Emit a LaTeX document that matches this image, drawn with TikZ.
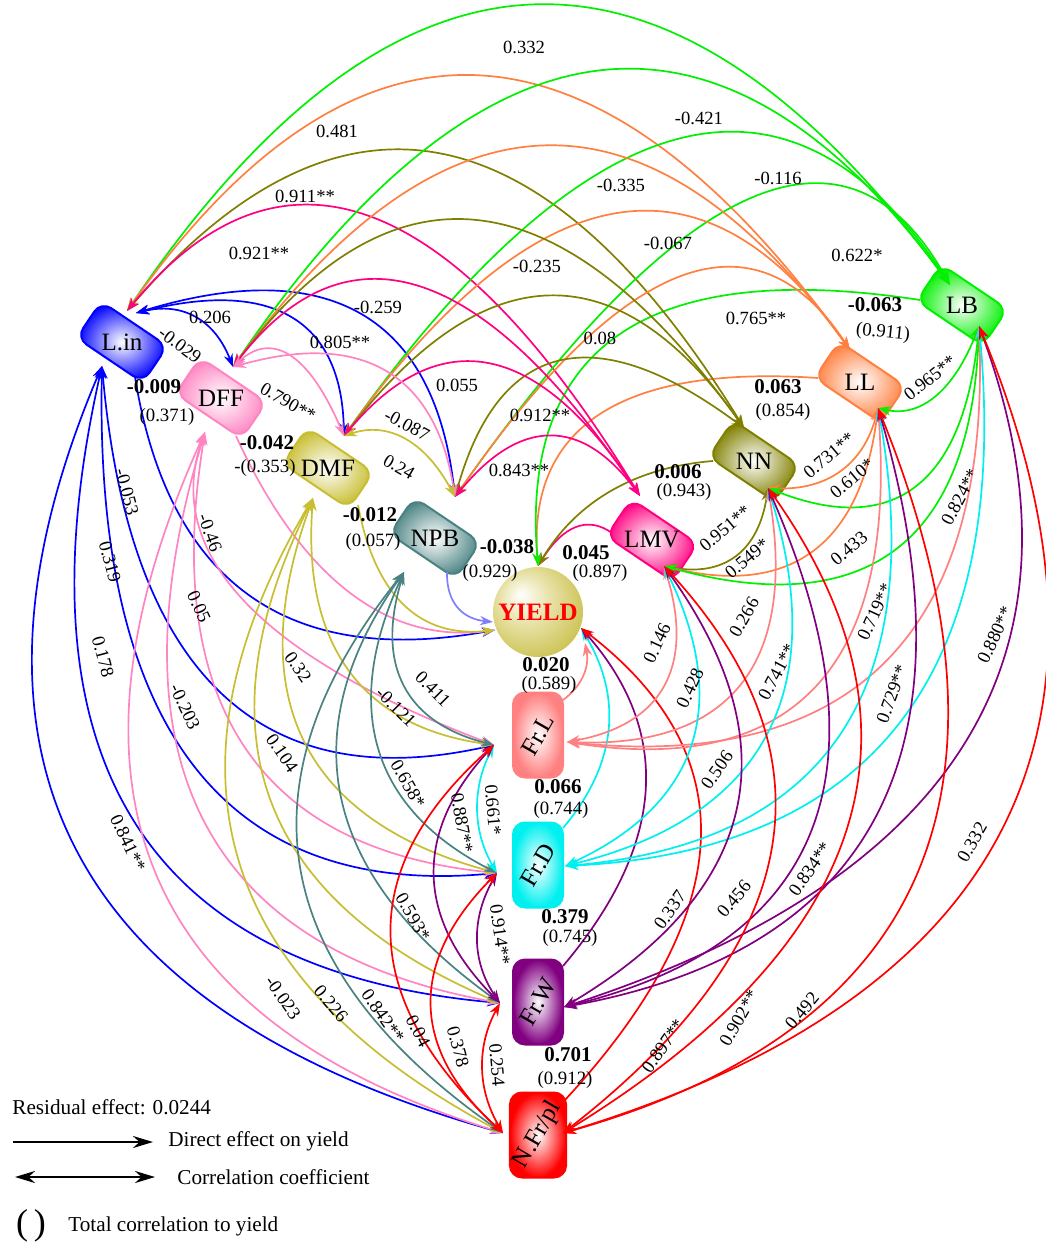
\documentclass[tikz,border=0pt]{standalone}
\usepackage{fontspec}
\setmainfont{Liberation Serif}
\usetikzlibrary{calc,arrows.meta}
\definecolor{cLin}{HTML}{0000FF}
\definecolor{cDFF}{HTML}{FF85C2}
\definecolor{cDMF}{HTML}{C8BE32}
\definecolor{cNPB}{HTML}{4A8282}
\definecolor{cLMV}{HTML}{FF0080}
\definecolor{cNN}{HTML}{808000}
\definecolor{cLL}{HTML}{FF8040}
\definecolor{cLB}{HTML}{00F000}
\definecolor{cFrL}{HTML}{FF8080}
\definecolor{cFrD}{HTML}{00F0F0}
\definecolor{cFrW}{HTML}{800080}
\definecolor{cNFr}{HTML}{FF0000}
\definecolor{cNPBY}{HTML}{8080FF}
\definecolor{cBallA}{HTML}{E8E2A8}
\definecolor{cBallB}{HTML}{C4BA3A}
\definecolor{cBallC}{HTML}{A89E22}
\pgfdeclareradialshading{yball}{\pgfpoint{-10bp}{10bp}}{color(0bp)=(white); color(14bp)=(cBallA); color(36bp)=(cBallB); color(52bp)=(cBallC)}
\newcounter{labn}
% quadratic-like curve from #2 to #3 passing through mid point #4
\newcommand{\qc}[4]{%
  \coordinate (qA) at (#2);%
  \coordinate (qB) at (#3);%
  \coordinate (qC) at ($(qA)!0.5!(qB)$);%
  \coordinate (qQ) at ($(#4)!-1!(qC)$);%
  \draw[#1] (qA) .. controls ($(qA)!0.6667!(qQ)$) and ($(qB)!0.6667!(qQ)$) .. (qB);%
}
\newcommand{\lbl}[3]{\stepcounter{labn}\node[lbltxt,rotate=#2] (lab\thelabn) at (#1) {#3};}
\newcommand{\blb}[2]{\stepcounter{labn}\node[blbl] (lab\thelabn) at (#1) {#2};}
\newcommand{\plb}[3]{\stepcounter{labn}\node[plbl,rotate=#2] (lab\thelabn) at (#1) {#3};}
\begin{document}
\begin{tikzpicture}[x=0.5pt,y=-0.5pt,>={Stealth[length=6.5pt,width=4.6pt]},
  corr/.style={draw=#1,line width=0.85pt,<->},
  deff/.style={draw=#1,line width=0.85pt,->},
  tbox/.style={draw=#1,line width=1pt,rounded corners=6pt,inner color=white,outer color=#1,minimum width=40pt,minimum height=22pt,inner sep=0pt,rotate=-34,font=\fontsize{12.5}{14}\selectfont},
  vbox/.style={draw=#1,line width=1pt,rounded corners=6pt,inner color=white,outer color=#1,minimum width=25pt,minimum height=42.5pt,inner sep=0pt,font=\fontsize{12.5}{14}\selectfont},
  lbltxt/.style={font=\fontsize{9.3}{11}\selectfont,inner sep=0pt},
  blbl/.style={font=\fontsize{10.5}{12}\selectfont\bfseries,inner sep=0pt},
  plbl/.style={font=\fontsize{9.4}{11}\selectfont,inner sep=0pt},
  legtxt/.style={font=\fontsize{10.6}{12}\selectfont,inner sep=0pt,anchor=west},
  legar/.style={line width=1.2pt,>={Stealth[length=10pt,width=6pt]}}]
\path[use as bounding box,fill=white] (0,0) rectangle (1045,1245);

% ---------- nodes ----------
\node[tbox=cLin] (lin) at (122,342) {\rotatebox{34}{L.in}};
\node[tbox=cDFF] (dff) at (221,398) {\rotatebox{34}{DFF}};
\node[tbox=cDMF] (dmf) at (328,468) {\rotatebox{34}{DMF}};
\node[tbox=cNPB] (npb) at (435,538) {\rotatebox{34}{NPB}};
\node[tbox=cLMV] (lmv) at (652,540) {\rotatebox{34}{LMV}};
\node[tbox=cNN]  (nn)  at (754,461) {\rotatebox{34}{NN}};
\node[tbox=cLL]  (ll)  at (860,382) {\rotatebox{34}{LL}};
\node[tbox=cLB]  (lb)  at (962,305) {\rotatebox{34}{LB}};
\node[vbox=cFrL] (frl) at (538,735) {\rotatebox{60}{Fr.L}};
\node[vbox=cFrD] (frd) at (538,865) {\rotatebox{60}{Fr.D}};
\node[vbox=cFrW] (frw) at (538,1002) {\rotatebox{60}{Fr.W}};
\node[vbox=cNFr] (nfr) at (538,1135) {\rotatebox{60}{N.Fr/pl}};
\node[circle,shading=yball,minimum size=45pt,inner sep=0pt,font=\fontsize{12.5}{14}\selectfont\bfseries,text=red] (yld) at (538,612) {YIELD};

% ---------- attachment points ----------
\coordinate (linT) at ($(lin)+(5,-31)$);
\coordinate (linTb) at ($(lin)+(14,-29)$);
\coordinate (linB) at ($(lin)+(-20,24)$);
\coordinate (linY) at ($(lin)+(13,35)$);
\coordinate (dffT) at ($(dff)+(12,-31)$);
\coordinate (dffB) at ($(dff)+(-16,34)$);
\coordinate (dffY) at ($(dff)+(15,38)$);
\coordinate (dmfT) at ($(dmf)+(16,-32)$);
\coordinate (dmfB) at ($(dmf)+(-15,30)$);
\coordinate (dmfY) at ($(dmf)+(30,37)$);
\coordinate (npbT) at ($(npb)+(20,-41)$);
\coordinate (npbB) at ($(npb)+(-31,34)$);
\coordinate (npbY) at ($(npb)+(12,34)$);
\coordinate (lmvT) at ($(lmv)+(-12,-44)$);
\coordinate (lmvB) at ($(lmv)+(12,26)$);
\coordinate (lmvL) at ($(lmv)+(-40,-7)$);
\coordinate (nnT) at ($(nn)+(-10,-33)$);
\coordinate (nnB) at ($(nn)+(14,27)$);
\coordinate (nnL) at ($(nn)+(-41,0)$);
\coordinate (llT) at ($(ll)+(-10,-32)$);
\coordinate (llB) at ($(ll)+(18,26)$);
\coordinate (llL) at ($(ll)+(-42,-4)$);
\coordinate (lbT) at ($(lb)+(-12,-20)$);
\coordinate (lbB) at ($(lb)+(17,21)$);
\coordinate (lbL) at ($(lb)+(-42,-5)$);
\coordinate (frlL) at ($(frl)+(-44,10)$);
\coordinate (frlR) at ($(frl)+(29,7)$);
\coordinate (frlY) at ($(frl)+(25,-35)$);
\coordinate (frdL) at ($(frd)+(-41,8)$);
\coordinate (frdR) at ($(frd)+(27,1)$);
\coordinate (frdY) at ($(frd)+(25,-37)$);
\coordinate (frwL) at ($(frw)+(-38,1)$);
\coordinate (frwR) at ($(frw)+(26,5)$);
\coordinate (frwY) at ($(frw)+(25,-36)$);
\coordinate (nfrL) at ($(nfr)+(-35,-2)$);
\coordinate (nfrR) at ($(nfr)+(25,-2)$);
\coordinate (nfrY) at ($(nfr)+(27,-35)$);
\coordinate (yL) at ($(yld)+(-43,18)$);
\coordinate (yLn) at ($(yld)+(-45,10)$);
\coordinate (yT) at ($(yld)+(0,-46)$);
\coordinate (yR) at ($(yld)+(43,16)$);
\coordinate (yBR) at ($(yld)+(47,31)$);

% ---------- direct effects ----------
\qc{deff=cLin}{linY}{yL}{250,595}
\qc{deff=cDFF}{dffY}{yL}{350,592}
\qc{deff=cDMF}{dmfY}{yL}{405,605}
\qc{deff=cNPBY}{npbY}{yLn}{458,607}
\qc{deff=cLMV}{lmvL}{yT}{575,528}
\qc{deff=cNN}{nnL}{yT}{610,492}
\qc{deff=cLL}{llL}{yT}{600,415}
\qc{deff=cLB}{lbL}{yT}{620,335}
\qc{deff=cFrL}{frlY}{yBR}{583,675}
\qc{deff=cFrD}{frdY}{yR}{608,730}
\qc{deff=cFrW}{frwY}{yR}{645,790}
\qc{deff=cNFr}{nfrY}{yR}{700,840}

% ---------- correlations: upper ----------
\qc{corr=cLB}{linT}{lbT}{535,6}
\qc{corr=cLL}{linT}{llT}{480,77}
\qc{corr=cNN}{linT}{nnT}{440,155}
\qc{corr=cLMV}{linT}{lmvT}{370,218}
\qc{corr=cLin}{linTb}{npbT}{360,315}
\qc{corr=cLin}{linTb}{dmfT}{290,318}
\qc{corr=cLin}{linTb}{dffT}{195,318}
\qc{corr=cLB}{dffT}{lbT}{600,72}
\qc{corr=cLB}{dmfT}{lbT}{680,140}
\qc{corr=cLB}{npbT}{lbT}{750,200}
\qc{corr=cLL}{dffT}{llT}{545,147}
\qc{corr=cLL}{dmfT}{llT}{615,215}
\qc{corr=cLL}{npbT}{llT}{680,278}
\qc{corr=cNN}{dffT}{nnT}{480,222}
\qc{corr=cNN}{dmfT}{nnT}{550,297}
\qc{corr=cNN}{npbT}{nnT}{560,362}
\qc{corr=cLMV}{dffT}{lmvT}{420,288}
\qc{corr=cLMV}{dmfT}{lmvT}{490,365}
\qc{corr=cLMV}{npbT}{lmvT}{550,437}
\qc{corr=cDFF}{dffT}{dmfT}{290,357}
\qc{corr=cDFF}{dffT}{npbT}{385,372}
\qc{corr=cDMF}{dmfT}{npbT}{405,440}

% ---------- correlations: right ----------
\qc{corr=cLB}{llB}{lbB}{935,395}
\qc{corr=cLL}{nnB}{llB}{840,470}
\qc{corr=cLB}{nnB}{lbB}{915,485}
\qc{corr=cNN}{lmvB}{nnB}{735,555}
\qc{corr=cLL}{lmvB}{llB}{812,550}
\qc{corr=cLB}{lmvB}{lbB}{895,548}
\qc{corr=cFrL}{frlR}{lmvB}{663,685}
\qc{corr=cFrL}{frlR}{nnB}{740,683}
\qc{corr=cFrL}{frlR}{llB}{815,685}
\qc{corr=cFrL}{frlR}{lbB}{885,660}
\qc{corr=cFrD}{frdR}{lmvB}{690,745}
\qc{corr=cFrD}{frdR}{nnB}{765,735}
\qc{corr=cFrD}{frdR}{llB}{838,735}
\qc{corr=cFrD}{frdR}{lbB}{900,720}
\qc{corr=cFrW}{frwR}{lmvB}{735,810}
\qc{corr=cFrW}{frwR}{nnB}{810,830}
\qc{corr=cFrW}{frwR}{llB}{875,815}
\qc{corr=cFrW}{frwR}{lbB}{965,740}
\qc{corr=cNFr}{nfrR}{lmvB}{770,850}
\qc{corr=cNFr}{nfrR}{nnB}{845,830}
\qc{corr=cNFr}{nfrR}{llB}{915,875}
\qc{corr=cNFr}{nfrR}{lbB}{1000,830}

% ---------- correlations: left ----------
\qc{corr=cLin}{linB}{frlL}{220,690}
\qc{corr=cLin}{linB}{frdL}{195,765}
\qc{corr=cLin}{linB}{frwL}{135,820}
\qc{corr=cLin}{linB}{nfrL}{78,850}
\qc{corr=cDFF}{dffB}{frlL}{245,600}
\qc{corr=cDFF}{dffB}{frdL}{245,745}
\qc{corr=cDFF}{dffB}{frwL}{205,820}
\qc{corr=cDFF}{dffB}{nfrL}{158,875}
\qc{corr=cDMF}{dmfB}{frlL}{350,670}
\qc{corr=cDMF}{dmfB}{frdL}{305,740}
\qc{corr=cDMF}{dmfB}{frwL}{272,800}
\qc{corr=cDMF}{dmfB}{nfrL}{240,860}
\qc{corr=cNPB}{npbB}{frlL}{405,685}
\qc{corr=cNPB}{npbB}{frdL}{380,750}
\qc{corr=cNPB}{npbB}{frwL}{343,800}
\qc{corr=cNPB}{npbB}{nfrL}{302,870}
\qc{corr=cFrD}{frlL}{frdL}{478,810}
\qc{corr=cFrW}{frlL}{frwL}{435,875}
\qc{corr=cNFr}{frlL}{nfrL}{392,935}
\qc{corr=cFrW}{frdL}{frwL}{478,940}
\qc{corr=cNFr}{frdL}{nfrL}{432,1005}
\qc{corr=cNFr}{frwL}{nfrL}{483,1068}

% ---------- labels: upper ----------
\lbl{524,47}{0}{0.332}
\lbl{337,131}{0}{0.481}
\lbl{699,118}{0}{-0.421}
\lbl{305,196}{0}{0.911**}
\lbl{621,185}{0}{-0.335}
\lbl{778,178}{0}{-0.116}
\lbl{259,253}{0}{0.921**}
\lbl{668,243}{0}{-0.067}
\lbl{537,266}{0}{-0.235}
\lbl{857,255}{0}{0.622*}
\lbl{210,317}{0}{0.206}
\lbl{180,345}{-37}{-0.029}
\lbl{378,307}{0}{-0.259}
\lbl{340,342}{0}{0.805**}
\lbl{600,338}{0}{0.08}
\lbl{756,318}{0}{0.765**}
\lbl{288,402}{-30}{0.790**}
\lbl{457,385}{0}{0.055}
\lbl{407,425}{-28}{-0.087}
\lbl{399,467}{-30}{0.24}
\lbl{540,415}{0}{0.912**}
\lbl{519,470}{0}{0.843**}
% ---------- labels: right ----------
\lbl{930,378}{38}{0.965**}
\lbl{829,455}{40}{0.731**}
\lbl{852,478}{40}{0.610*}
\lbl{725,528}{40}{0.951**}
\lbl{747,558}{40}{0.549*}
\lbl{849,548}{40}{0.433}
\lbl{960,497}{62}{0.824**}
\lbl{744,617}{60}{0.266}
\lbl{657,643}{65}{0.146}
\lbl{690,688}{65}{0.428}
\lbl{777,672}{62}{0.741**}
\lbl{875,612}{65}{0.719**}
\lbl{995,635}{65}{0.880**}
\lbl{892,694}{70}{0.729**}
\lbl{717,770}{55}{0.506}
\lbl{670,910}{55}{0.337}
\lbl{734,899}{50}{0.456}
\lbl{810,869}{55}{0.834**}
\lbl{972,842}{60}{0.332}
\lbl{663,1046}{55}{0.897**}
\lbl{739,1018}{60}{0.902**}
\lbl{802,1011}{50}{0.492}
% ---------- labels: left ----------
\lbl{127,492}{-75}{-0.053}
\lbl{110,562}{-75}{0.319}
\lbl{103,657}{-75}{0.178}
\lbl{128,843}{-65}{0.841**}
\lbl{210,533}{-70}{-0.46}
\lbl{199,607}{-65}{0.05}
\lbl{185,707}{-65}{-0.203}
\lbl{298,667}{-55}{0.32}
\lbl{282,753}{-55}{0.104}
\lbl{433,689}{-45}{0.411}
\lbl{396,707}{-45}{-0.121}
\lbl{408,784}{-60}{0.658*}
\lbl{462,823}{-80}{0.887**}
\lbl{493,810}{-85}{0.661*}
\lbl{413,917}{-60}{0.593*}
\lbl{500,935}{-82}{0.914**}
\lbl{383,1016}{-55}{0.842**}
\lbl{418,1031}{-62}{0.04}
\lbl{458,1047}{-75}{0.378}
\lbl{497,1065}{-85}{0.254}
\lbl{331,1004}{-50}{0.226}
\lbl{283,998}{-55}{-0.023}

% ---------- direct effect / total correlation labels ----------
\blb{154,387}{-0.009}  \plb{167,417}{0}{(0.371)}
\blb{267,443}{-0.042}  \plb{265,468}{0}{-(0.353)}
\blb{370,515}{-0.012}  \plb{373,542}{0}{(0.057)}
\blb{507,547}{-0.038}  \plb{490,573}{0}{(0.929)}
\blb{586,553}{0.045}   \plb{600,573}{0}{(0.897)}
\blb{678,472}{0.006}   \plb{684,492}{0}{(0.943)}
\blb{778,387}{0.063}   \plb{783,412}{0}{(0.854)}
\blb{875,305}{-0.063}  \plb{883,333}{-6}{(0.911)}
\blb{546,665}{0.020}   \plb{549,685}{0}{(0.589)}
\blb{558,787}{0.066}   \plb{561,810}{0}{(0.744)}
\blb{565,917}{0.379}   \plb{570,938}{0}{(0.745)}
\blb{568,1055}{0.701}  \plb{565,1080}{0}{(0.912)}

% ---------- legend ----------
\node[legtxt] (res) at (12,1107) {Residual effect: 0.0244};
\coordinate (d1) at (13,1142);
\coordinate (d2) at (153,1142);
\draw[legar,->] (d1) -- (d2);
\node[legtxt] (dtx) at (168,1141) {Direct effect on yield};
\coordinate (c1) at (15,1177);
\coordinate (c2) at (155,1177);
\draw[legar,<->] (c1) -- (c2);
\node[legtxt] (ctx) at (177,1177) {Correlation coefficient};
\node[font=\fontsize{18}{20}\selectfont,inner sep=0pt] (par) at (31,1226) {(\hspace{3pt})};
\node[legtxt] (ttx) at (68,1226) {Total correlation to yield};
\end{tikzpicture}
\end{document}
